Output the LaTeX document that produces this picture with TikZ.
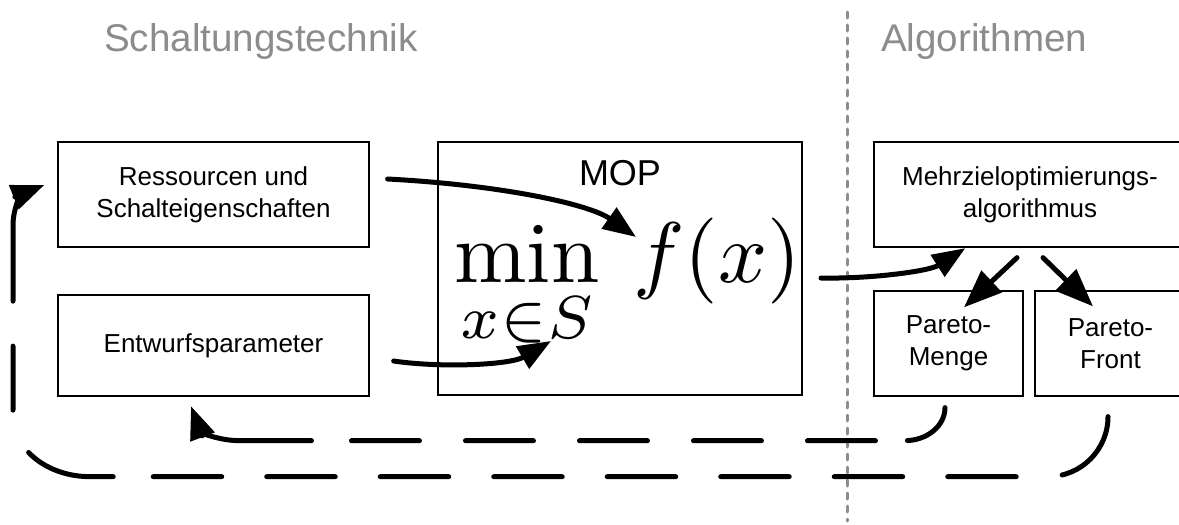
\documentclass[tikz,border=0pt]{standalone}
\usepackage{fontspec}
\setsansfont{Liberation Sans}
\usetikzlibrary{arrows.meta,calc}
\definecolor{sepgray}{RGB}{140,140,140}
\definecolor{titlegray}{RGB}{140,140,140}
\begin{document}
\begin{tikzpicture}[x=1pt,y=-1pt,
  box/.style={draw, line width=1.3pt, inner sep=0pt, align=center,
    font=\sffamily\fontsize{26}{32}\selectfont},
  title/.style={font=\sffamily\fontsize{38.6}{40}\selectfont, text=titlegray, anchor=base west, inner sep=0pt},
  conn/.style={line width=5pt, line cap=round, -{Triangle[length=33pt,width=25pt]}},
  bigconn/.style={line width=5pt, line cap=round, -{Triangle[length=38pt,width=29pt]}},
  sep/.style={sepgray, line width=3pt, line cap=round, dash pattern=on 6pt off 7pt},
  ]
\useasboundingbox (0,0) rectangle (1179,525);

% titles and separator
\node[title] (t1) at (104,51) {Schaltungstechnik};
\node[title] (t2) at (881,51) {Algorithmen};
\coordinate (septop) at (847,12);
\coordinate (sepbot) at (847,521);
\draw[sep] (septop) -- (sepbot);

% boxes
\node[box, minimum width=311pt, minimum height=105pt] (res) at (213.5,194.5) {Ressourcen und\\Schalteigenschaften};
\node[box, minimum width=311pt, minimum height=101pt] (ent) at (213.5,345.5) {Entwurfsparameter};
\node[draw, line width=2pt, minimum width=364pt, minimum height=253pt, inner sep=0pt] (mop) at (620,268.5) {};
\node[font=\sffamily\fontsize{36}{40}\selectfont, anchor=base, inner sep=0pt] (moplabel) at (620,185) {MOP};
\node[anchor=base, inner sep=0pt] (minop) at (527,282) {\scalebox{8.7}{$\displaystyle\min_{x\in S}$}};
\node[anchor=base west, inner sep=0pt] (fx) at (633,282) {\scalebox{8.6}{$f(x)$}};
\node[box, minimum width=312pt, minimum height=105pt] (mz) at (1030,194.5) {Mehrzieloptimierungs-\\algorithmus};
\node[box, minimum width=149pt, minimum height=105pt] (pm) at (948.5,343.5) {Pareto-\\Menge};
\node[box, minimum width=151pt, minimum height=105pt] (pf) at (1110.5,343.5) {Pareto-\\Front};

% connector end points
\coordinate (s1) at ($(res.east)+(18,-15.5)$);
\coordinate (e1) at ($(fx.base west)+(3,-45)$);
\coordinate (s2) at ($(ent.east)+(24,15.5)$);
\coordinate (e2) at ($(minop.base)+(24,59)$);
\coordinate (s3) at ($(mop.east)+(18,9.5)$);
\coordinate (e3) at ($(mz.south west)+(92,0.5)$);
\coordinate (s4) at ($(mz.south)+(-13,10)$);
\coordinate (e4) at ($(pm.north)+(15.5,17)$);
\coordinate (s5) at ($(mz.south)+(13,10)$);
\coordinate (e5) at ($(pf.north)+(-17.5,16)$);
\coordinate (is) at ($(pm.south)+(-3.5,11)$);
\coordinate (ie) at ($(ent.south)+(-22.5,9.5)$);
\coordinate (os) at ($(pf.south)+(-2.5,20)$);
\coordinate (oe) at ($(res.west)+(-13,-9.5)$);

% connectors
\draw[conn] (s1) .. controls +(113,6) and +(-47,-33) .. (e1);
\draw[conn] (s2) .. controls +(47,7) and +(-41,24) .. (e2);
\draw[conn] (s3) .. controls +(50,1) and +(-36,23) .. (e3);
\draw[bigconn] (s4) -- (e4);
\draw[bigconn] (s5) -- (e5);

\draw[conn, dash pattern=on 55pt off 32pt on 68pt off 46pt on 68pt off 46pt on 68pt off 46pt on 68pt off 46pt on 68pt off 40pt on 500pt off 1pt]
  (is) arc[start angle=0, end angle=90, x radius=40, y radius=33]
  -- ++(-665,0) .. controls +(-25,0) and +(9,24) .. (ie);

\draw[conn, dash pattern=on 80pt off 46pt on 68.5pt off 45pt on 68.5pt off 45pt on 68.5pt off 45pt on 68.5pt off 45pt on 68.5pt off 45pt on 68.5pt off 45pt on 68.5pt off 45pt on 68.5pt off 40pt on 91pt off 46.5pt on 64pt off 45pt on 500pt off 1pt]
  (os) arc[start angle=0, end angle=90, radius=60]
  -- ++(-958,0)
  arc[start angle=90, end angle=180, x radius=77, y radius=61]
  -- ++(0,-190) .. controls +(0,-22) and +(-20,8) .. (oe);
\end{tikzpicture}
\end{document}
